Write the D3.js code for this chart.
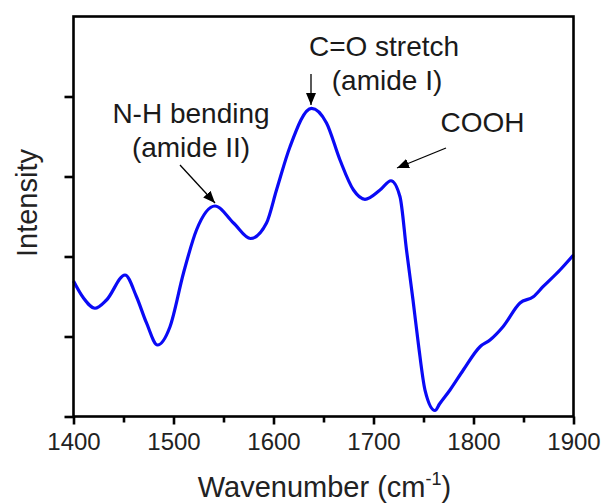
<!DOCTYPE html>
<html>
<head>
<meta charset="utf-8">
<script src="https://cdn.jsdelivr.net/npm/d3@7"></script>
<style>
  html, body { margin: 0; padding: 0; background: #fff; }
  svg { display: block; font-family: 'Liberation Sans', Arial, sans-serif; }
</style>
</head>
<body>
<div id="chart"></div>
<script>
// FTIR spectrum (intensity in arbitrary units)
const wavenumbers = [1400, 1410, 1421.5, 1433, 1451.5, 1463, 1473, 1484, 1496.5, 1510, 1523, 1541.5,
  1560, 1577, 1593, 1603, 1616.5, 1638, 1653, 1666.5, 1680, 1691.5, 1706.5, 1717.5, 1726.5, 1733,
  1739.5, 1745, 1751.5, 1761.5, 1766, 1776.5, 1789.8, 1806.5, 1816.5, 1829.5, 1846.5, 1859.8,
  1869.5, 1886.5, 1900];
const intensity = [1.694, 1.481, 1.353, 1.456, 1.769, 1.497, 1.169, 0.894, 1.122, 1.794, 2.331, 2.631,
  2.419, 2.225, 2.419, 2.831, 3.372, 3.852, 3.669, 3.206, 2.831, 2.715, 2.831, 2.947, 2.747, 2.081,
  1.456, 0.894, 0.331, 0.075, 0.156, 0.331, 0.581, 0.872, 0.956, 1.122, 1.419, 1.497,
  1.622, 1.831, 2.019];

const xMajorTicks = [1400, 1500, 1600, 1700, 1800, 1900];
const xMinorTicks = [1450, 1550, 1650, 1750, 1850];
const yTicks = [0, 1, 2, 3, 4];

const W = 602, H = 504;
const margin = { top: 16.5, right: 28.5, bottom: 87.5, left: 73.5 };
const innerW = W - margin.left - margin.right;
const innerH = H - margin.top - margin.bottom;

const svg = d3.select('#chart').append('svg').attr('width', W).attr('height', H);
const g = svg.append('g').attr('transform', `translate(${margin.left},${margin.top})`);

const x = d3.scaleLinear().domain([1400, 1900]).range([0, innerW]);
const y = d3.scaleLinear().domain([0, 5]).range([innerH, 0]);

// Spectrum
const pts = wavenumbers.map((w, i) => ({ w, v: intensity[i] }));
const line = d3.line().x(d => x(d.w)).y(d => y(d.v)).curve(d3.curveMonotoneX);
g.append('path').datum(pts)
  .attr('fill', 'none').attr('stroke', '#0a0af5').attr('stroke-width', 3.2)
  .attr('stroke-linejoin', 'round').attr('d', line);

// Frame
g.append('rect').attr('x', 0).attr('y', 0).attr('width', innerW).attr('height', innerH)
  .attr('fill', 'none').attr('stroke', '#000').attr('stroke-width', 2.6);

// Bottom axis (labelled majors + short minors)
const xAxis = g.append('g').attr('transform', `translate(0,${innerH})`)
  .call(d3.axisBottom(x).tickValues(xMajorTicks).tickSize(8).tickPadding(8).tickFormat(d3.format('d')));
xAxis.selectAll('text').style('font-size', '24px').style('fill', '#222');
xAxis.selectAll('line').attr('stroke-width', 2.6);
xAxis.select('.domain').remove();
const xMinor = g.append('g').attr('transform', `translate(0,${innerH})`)
  .call(d3.axisBottom(x).tickValues(xMinorTicks).tickSize(6).tickFormat(''));
xMinor.selectAll('line').attr('stroke-width', 2.6);
xMinor.select('.domain').remove();

// Left axis: ticks only, no labels
const yAxis = g.append('g')
  .call(d3.axisLeft(y).tickValues(yTicks).tickSize(9).tickFormat(''));
yAxis.selectAll('line').attr('stroke-width', 2.6);
yAxis.select('.domain').remove();

// Axis titles
const xt = svg.append('text').attr('x', 324.5).attr('y', 497)
  .attr('text-anchor', 'middle').style('font-size', '29px').style('fill', '#222');
xt.append('tspan').text('Wavenumber (cm');
xt.append('tspan').attr('dy', -12).style('font-size', '18px').text('-1');
xt.append('tspan').attr('dy', 12).text(')');

svg.append('text').attr('transform', 'translate(36.5,203) rotate(-90)')
  .attr('text-anchor', 'middle').style('font-size', '29px').style('fill', '#222')
  .text('Intensity');

// Annotations
svg.append('defs').append('marker').attr('id', 'arr')
  .attr('viewBox', '0 0 12 10').attr('refX', 12).attr('refY', 5)
  .attr('markerWidth', 12).attr('markerHeight', 10).attr('markerUnits', 'userSpaceOnUse')
  .attr('orient', 'auto')
  .append('path').attr('d', 'M0,0 L12,5 L0,10 Z').attr('fill', '#000');

const notes = [
  { lines: ['N-H bending', '(amide II)'], cx: 191, y0: 123, from: [180, 165], to: [215, 203] },
  { lines: ['C=O stretch', '(amide I)'], cx: 384, y0: 55.5, from: [311, 74], to: [311, 105] },
  { lines: ['COOH'], cx: 482.5, y0: 132, from: [446, 148], to: [397, 168] },
];
notes.forEach(n => {
  const t = svg.append('text').attr('text-anchor', 'middle')
    .style('font-size', '28px').style('fill', '#1a1a1a');
  n.lines.forEach((s, i) => {
    t.append('tspan').attr('x', i === 1 && n.lines[0] === 'C=O stretch' ? n.cx + 3 : n.cx)
      .attr('y', n.y0 + i * 34).text(s);
  });
  svg.append('line').attr('x1', n.from[0]).attr('y1', n.from[1])
    .attr('x2', n.to[0]).attr('y2', n.to[1])
    .attr('stroke', '#000').attr('stroke-width', 1.3).attr('marker-end', 'url(#arr)');
});
</script>
</body>
</html>
